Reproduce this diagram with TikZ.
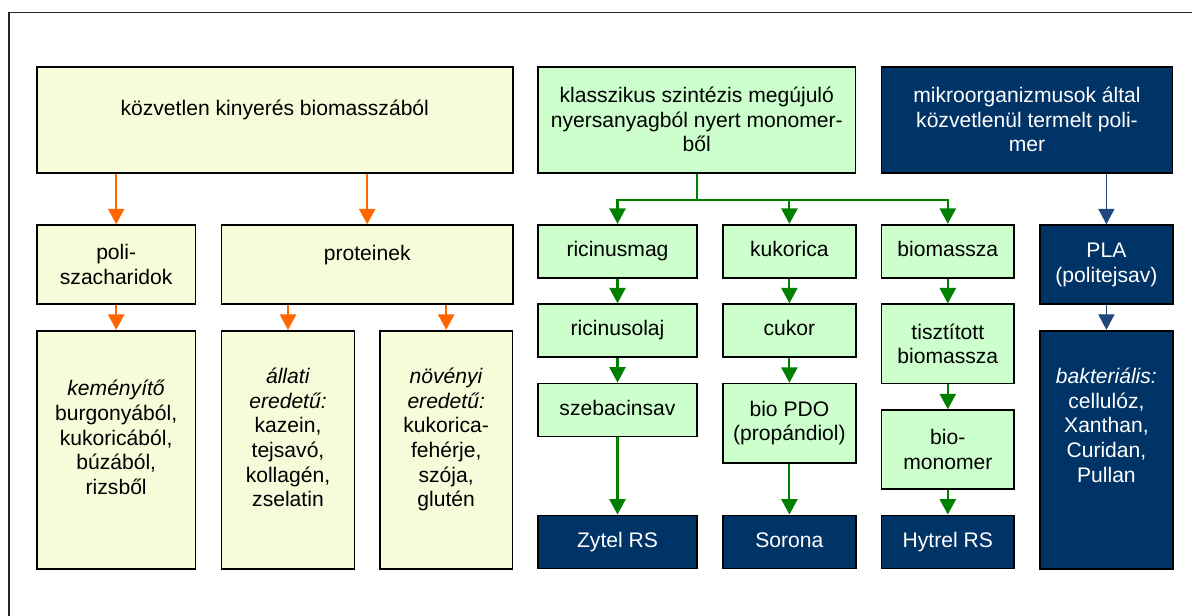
\documentclass[tikz,border=0pt]{standalone}
\usepackage{fontspec}
\setmainfont{Liberation Sans}
\usetikzlibrary{arrows.meta}

\definecolor{sarga}{RGB}{246,252,218}
\definecolor{vzold}{RGB}{204,255,204}
\definecolor{sotetkek}{RGB}{0,51,102}
\definecolor{narancs}{RGB}{255,102,0}
\definecolor{zold}{RGB}{0,128,0}
\definecolor{kekvonal}{RGB}{31,73,125}

\tikzset{
  doboz/.style={draw=black, line width=1.2pt, align=center, inner sep=2pt,
    font=\fontsize{15}{17.5}\selectfont},
  sdoboz/.style={doboz, fill=sarga},
  zdoboz/.style={doboz, fill=vzold},
  kdoboz/.style={doboz, fill=sotetkek, text=white},
  szeles/.style={minimum width=3.97cm},
  keskeny/.style={minimum width=3.32cm},
  alacsony/.style={minimum height=1.33cm, text height=11pt, text depth=3.5pt},
  kozepes/.style={minimum height=1.98cm},
  magas/.style={minimum height=5.95cm},
  hegy/.style={-{Triangle[width=11.5pt,length=11pt]}},
  narnyil/.style={hegy, draw=narancs, line width=1.5pt},
  zoldnyil/.style={hegy, draw=zold, line width=1.5pt},
  keknyil/.style={hegy, draw=kekvonal, line width=0.9pt}
}

\begin{document}
\begin{tikzpicture}[x=0.025cm, y=-0.025cm]
  \useasboundingbox (0,0) rectangle (1192,616);
  % keret
  \draw[line width=1pt, black!85] (9,616) -- (9,12.7) -- (1192,12.7);

  % felso sor
  \node[sdoboz, minimum width=11.9cm, minimum height=2.65cm] (kozvetlen) at (274.8,119.7)
    {közvetlen kinyerés biomasszából\\ \mbox{}};
  \node[zdoboz, minimum width=7.94cm, minimum height=2.65cm] (klassz) at (696.8,119.7)
    {klasszikus szintézis megújuló\\ nyersanyagból nyert monomer-\\ ből};
  \node[kdoboz, minimum width=7.28cm, minimum height=2.65cm] (mikro) at (1027,119.7)
    {mikroorganizmusok által\\ közvetlenül termelt poli-\\ mer};

  % biomasszabol
  \node[sdoboz, szeles, kozepes] (poli) at (116.2,264.7) {poli-\\ szacharidok};
  \node[sdoboz, minimum width=7.28cm, kozepes] (protein) at (367.2,264.7) {proteinek\\ \mbox{}};
  \node[sdoboz, szeles, magas] (kemeny) at (116.2,449.7)
    {\textit{keményítő}\\ burgonyából,\\ kukoricából,\\ búzából,\\ rizsből\\ \mbox{}};
  \node[sdoboz, keskeny, magas] (allati) at (288,449.7)
    {\textit{állati}\\ \textit{eredetű:}\\ kazein,\\ tejsavó,\\ kollagén,\\ zselatin\\ \mbox{}};
  \node[sdoboz, keskeny, magas] (novenyi) at (446.2,449.7)
    {\textit{növényi}\\ \textit{eredetű:}\\ kukorica-\\ fehérje,\\ szója,\\ glutén\\ \mbox{}};

  % monomerbol
  \node[zdoboz, szeles, alacsony] (ricinus) at (617.5,251.3) {ricinusmag};
  \node[zdoboz, szeles, alacsony] (olaj) at (617.5,330.7) {ricinusolaj};
  \node[zdoboz, szeles, alacsony] (szebacin) at (617.5,410) {szebacinsav};
  \node[kdoboz, szeles, alacsony] (zytel) at (617.5,542) {Zytel RS};
  \node[zdoboz, keskeny, alacsony] (kukorica) at (789.4,251.3) {kukorica};
  \node[zdoboz, keskeny, alacsony] (cukor) at (789.4,330.7) {cukor};
  \node[zdoboz, keskeny, kozepes] (pdo) at (789.4,423.2) {bio PDO\\ (propándiol)};
  \node[kdoboz, keskeny, alacsony] (sorona) at (789.4,542) {Sorona};
  \node[zdoboz, keskeny, alacsony] (biomassza) at (947.8,251.3) {biomassza};
  \node[zdoboz, keskeny, kozepes] (tisztitott) at (947.8,343.9) {tisztított\\ biomassza};
  \node[zdoboz, keskeny, kozepes] (monomer) at (947.8,449.7) {bio-\\ monomer};
  \node[kdoboz, keskeny, alacsony] (hytrel) at (947.8,542) {Hytrel RS};

  % mikroorganizmusok
  \node[kdoboz, keskeny, kozepes] (pla) at (1106.4,264.7) {PLA\\ (politejsav)};
  \node[kdoboz, keskeny, magas] (bakt) at (1106.4,449.7)
    {\textit{bakteriális:}\\ cellulóz,\\ Xanthan,\\ Curidan,\\ Pullan\\ \mbox{}\\ \mbox{}};

  % narancs nyilak
  \draw[narnyil] (kozvetlen.south -| poli.north) -- (poli.north);
  \draw[narnyil] (kozvetlen.south -| protein.north) -- (protein.north);
  \draw[narnyil] (poli) -- (kemeny);
  \draw[narnyil] (protein.south -| allati.north) -- (allati.north);
  \draw[narnyil] (protein.south -| novenyi.north) -- (novenyi.north);

  % zold nyilak
  \draw[zold, line width=1.5pt] (klassz.south) -- ++(0,26.3) coordinate (elag);
  \draw[zoldnyil] (elag) -| (ricinus.north);
  \draw[zoldnyil] (elag) -| (kukorica.north);
  \draw[zoldnyil] (elag) -| (biomassza.north);
  \draw[zoldnyil] (ricinus) -- (olaj);
  \draw[zoldnyil] (olaj) -- (szebacin);
  \draw[zoldnyil] (szebacin) -- (zytel);
  \draw[zoldnyil] (kukorica) -- (cukor);
  \draw[zoldnyil] (cukor) -- (pdo);
  \draw[zoldnyil] (pdo) -- (sorona);
  \draw[zoldnyil] (biomassza) -- (tisztitott);
  \draw[zoldnyil] (tisztitott) -- (monomer);
  \draw[zoldnyil] (monomer) -- (hytrel);

  % kek nyilak
  \draw[keknyil] (mikro.south -| pla.north) -- (pla.north);
  \draw[keknyil] (pla) -- (bakt);
\end{tikzpicture}
\end{document}
